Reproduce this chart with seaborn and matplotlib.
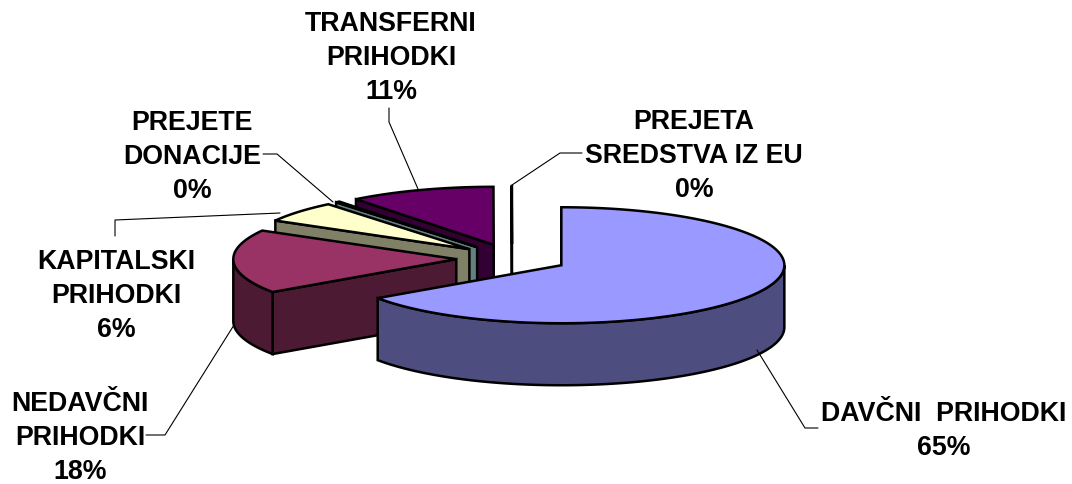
import matplotlib
matplotlib.use('Agg')
import matplotlib.pyplot as plt
import seaborn as sns
import numpy as np

categorias = ["DAVČNI  PRIHODKI", "NEDAVČNI\nPRIHODKI", "KAPITALSKI\nPRIHODKI",
              "PREJETE\nDONACIJE", "TRANSFERNI\nPRIHODKI", "PREJETA\nSREDSTVA IZ EU"]
valores = [65.4, 17.8, 5.9, 0.3, 10.58, 0.02]
colores = ["#9999FF", "#993366", "#FFFFCC", "#CCFFFF", "#660066", "#FF8080"]

# posicion del texto de cada etiqueta (centro, en pixeles)
pos_etiquetas = [(944, 431), (80, 438), (116, 296), (192, 157), (391, 58), (694, 156)]
guias = [
    [(757, 350), (805, 428), (818, 428)],
    [(234, 325), (165, 435), (146, 435)],
    [(280, 213), (115, 220), (115, 236)],
    [(333, 202), (277, 154), (263, 154)],
    [(418, 189), (389, 122), (389, 108)],
    [(512, 185), (560, 153), (582, 153)],
]

centro = (512, 258.5)
rx, ry = 223, 58
explosion = 0.25
alto = 62
linea = 1.8


def borde(cx, cy, grados):
    t = np.radians(grados)
    return cx + rx * np.sin(t), cy - ry * np.cos(t)


sns.set_theme(style="white")
plt.rcParams['font.family'] = ['Liberation Sans', 'DejaVu Sans']

fig = plt.figure(figsize=(10.72, 4.84), dpi=100)
ax = fig.add_axes([0, 0, 1, 1])
ax.set_xlim(0, 1072)
ax.set_ylim(484, 0)
ax.axis("off")

paleta = sns.color_palette(colores)
fin = np.cumsum(valores) / np.sum(valores) * 360
ini = np.concatenate([[0], fin[:-1]])

# de atras hacia adelante
for i in range(len(valores) - 1, -1, -1):
    a, b = ini[i], fin[i]
    medio = (a + b) / 2
    dx, dy = borde(0, 0, medio)
    cx, cy = centro[0] + explosion * dx, centro[1] + explosion * dy
    top = paleta[i]
    lado = tuple(c * 0.5 for c in top)
    estilo = dict(edgecolor="black", linewidth=linea, joinstyle="miter")

    xa, ya = borde(cx, cy, a)
    ax.fill([cx, xa, xa, cx], [cy, ya, ya + alto, cy + alto], facecolor=lado, **estilo)

    r1, r2 = max(a, 90), min(b, 270)
    if r2 > r1:
        th = np.linspace(r1, r2, 120)
        xr, yr = borde(cx, cy, th)
        ax.fill(np.r_[xr, xr[::-1]], np.r_[yr, yr[::-1] + alto], facecolor=lado, **estilo)

    th = np.linspace(a, b, 200)
    xt, yt = borde(cx, cy, th)
    ax.fill(np.r_[cx, xt], np.r_[cy, yt], facecolor=top, **estilo)

for puntos in guias:
    xs, ys = zip(*puntos)
    ax.plot(xs, ys, color="black", linewidth=0.8)

for cat, val, (x, y) in zip(categorias, valores, pos_etiquetas):
    ax.text(x, y, f"{cat}\n{val:.0f}%", ha="center", va="center", fontsize=19.3,
            fontweight="bold", color="black", linespacing=1.41)

plt.savefig("out.png", dpi=100)
plt.close()
